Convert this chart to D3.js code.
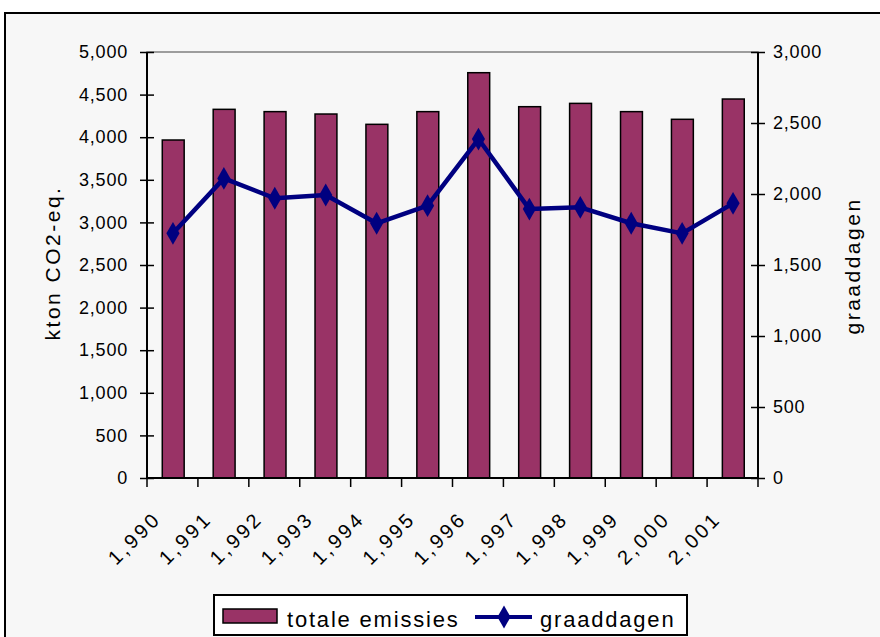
<!DOCTYPE html>
<html><head><meta charset="utf-8">
<script src="https://cdn.jsdelivr.net/npm/d3@7/dist/d3.min.js"></script>
<style>
html,body{margin:0;padding:0;background:#ffffff;}
svg{display:block;font-family:"Liberation Sans",Arial,sans-serif;}
</style></head>
<body>
<svg id="chart" width="880" height="637"></svg>
<script>
const years = [1990,1991,1992,1993,1994,1995,1996,1997,1998,1999,2000,2001];
const emissions = [3967,4327,4300,4272,4151,4300,4757,4358,4397,4300,4210,4448];
const degreeDays = [1723,2110,1970,1993,1794,1918,2387,1894,1906,1794,1723,1934];
const leftTicks = [0,500,1000,1500,2000,2500,3000,3500,4000,4500,5000];
const rightTicks = [0,500,1000,1500,2000,2500,3000];
const seriesNames = ["totale emissies","graaddagen"];
const axisTitles = ["kton CO2-eq.","graaddagen"];

const svg = d3.select("#chart");
const m = {left:147, right:758, top:52, bottom:478};
const fmt = d3.format(",");

// chart area background + border
svg.append("rect").attr("x",5).attr("y",13).attr("width",890).attr("height",640)
  .attr("fill","#f7f7f7").attr("stroke","#000").attr("stroke-width",2);

const x = d3.scaleBand().domain(years).range([m.left,m.right]).padding(0);
const yL = d3.scaleLinear().domain([0,5000]).range([m.bottom,m.top]);
const yR = d3.scaleLinear().domain([0,3000]).range([m.bottom,m.top]);
const bw = x.bandwidth();

// plot area border
svg.append("rect").attr("x",m.left).attr("y",m.top).attr("width",m.right-m.left).attr("height",m.bottom-m.top)
  .attr("fill","#f7f7f7").attr("stroke","#808080").attr("stroke-width",1.5);

// bars
svg.append("g").selectAll("rect").data(years).join("rect")
  .attr("x",(d)=>x(d)+bw*0.3)
  .attr("width",bw*0.43)
  .attr("y",(d,i)=>yL(emissions[i]))
  .attr("height",(d,i)=>yL(0)-yL(emissions[i]))
  .attr("fill","#993366").attr("stroke","#000").attr("stroke-width",1.5);

// line
const line = d3.line().x((d,i)=>x(years[i])+bw/2+0.5).y(d=>yR(d));
svg.append("path").datum(degreeDays).attr("d",line)
  .attr("fill","none").attr("stroke","#000080").attr("stroke-width",4.5).attr("stroke-linejoin","round");
const diamond = d3.symbol().type(d3.symbolDiamond).size(150);
svg.append("g").selectAll("path").data(degreeDays).join("path")
  .attr("transform",(d,i)=>`translate(${x(years[i])+bw/2+0.5},${yR(d)})`)
  .attr("d",diamond).attr("fill","#000080");

// left axis
const gL = svg.append("g").attr("transform",`translate(${m.left},0)`);
gL.call(d3.axisLeft(yL).tickValues(leftTicks).tickFormat(fmt).tickSize(7).tickPadding(12));
gL.selectAll(".tick line").attr("x2",-7).attr("x1",7).attr("stroke","#000").attr("stroke-width",1.5);
gL.select(".domain").attr("d",`M0,${m.top}V${m.bottom}`).attr("stroke","#000").attr("stroke-width",2);
gL.selectAll("text").attr("font-size",18).attr("letter-spacing",0.8).attr("fill","#000")
  .attr("font-family","Liberation Sans, Arial, sans-serif").attr("x",-19);

// right axis
const gR = svg.append("g").attr("transform",`translate(${m.right},0)`);
gR.call(d3.axisRight(yR).tickValues(rightTicks).tickFormat(fmt).tickSize(7).tickPadding(8));
gR.selectAll(".tick line").attr("x1",-7).attr("x2",7).attr("stroke","#000").attr("stroke-width",1.5);
gR.select(".domain").attr("d",`M0,${m.top}V${m.bottom}`).attr("stroke","#000").attr("stroke-width",2);
gR.selectAll("text").attr("font-size",18).attr("letter-spacing",0.8).attr("fill","#000")
  .attr("font-family","Liberation Sans, Arial, sans-serif").attr("x",15);

// bottom axis
const gB = svg.append("g");
gB.append("line").attr("x1",m.left).attr("x2",m.right).attr("y1",m.bottom).attr("y2",m.bottom)
  .attr("stroke","#000").attr("stroke-width",2);
const tickPos = years.map(d=>x(d)).concat([m.right]);
gB.selectAll("line.t").data(tickPos).join("line").attr("class","t")
  .attr("x1",d=>d).attr("x2",d=>d).attr("y1",m.bottom).attr("y2",m.bottom+9)
  .attr("stroke","#000").attr("stroke-width",1.5);
gB.selectAll("text").data(years).join("text")
  .attr("transform",d=>`translate(${x(d)+bw*0.3},${m.bottom+42}) rotate(-45)`)
  .attr("text-anchor","end").attr("font-size",20).attr("letter-spacing",3)
  .text(d=>fmt(d));

// axis titles
svg.append("text").attr("transform","translate(60,263) rotate(-90)")
  .attr("text-anchor","middle").attr("font-size",21).attr("letter-spacing",2.5).text(axisTitles[0]);
svg.append("text").attr("transform","translate(860,266) rotate(-90)")
  .attr("text-anchor","middle").attr("font-size",21).attr("letter-spacing",2.5).text(axisTitles[1]);

// legend
const lg = svg.append("g");
lg.append("rect").attr("x",214).attr("y",595).attr("width",473).attr("height",40)
  .attr("fill","#fff").attr("stroke","#000").attr("stroke-width",2);
lg.append("rect").attr("x",223).attr("y",609).attr("width",54).attr("height",14)
  .attr("fill","#993366").attr("stroke","#000").attr("stroke-width",1.5);
lg.append("text").attr("x",287).attr("y",627).attr("font-size",22).attr("letter-spacing",1.8).text(seriesNames[0]);
lg.append("line").attr("x1",475).attr("x2",532).attr("y1",617).attr("y2",617)
  .attr("stroke","#000080").attr("stroke-width",4);
lg.append("path").attr("transform","translate(504,617)").attr("d",diamond).attr("fill","#000080");
lg.append("text").attr("x",540).attr("y",627).attr("font-size",22).attr("letter-spacing",1.8).text(seriesNames[1]);
</script>
</body></html>
